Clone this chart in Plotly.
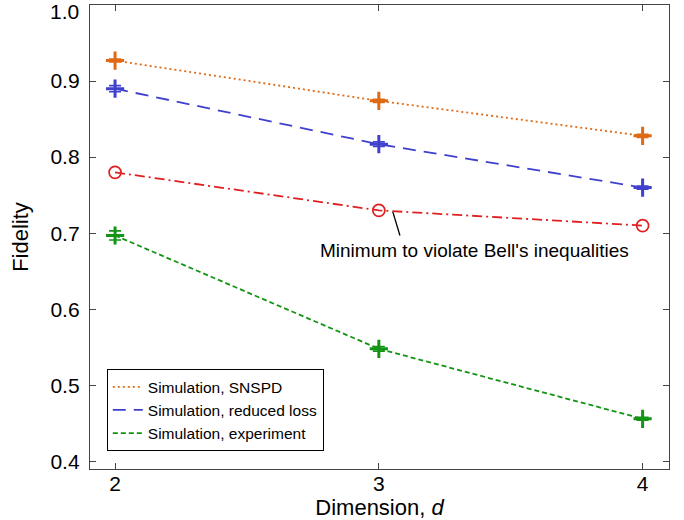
import plotly.graph_objects as go

dims = [2, 3, 4]
snspd = [0.927, 0.874, 0.828]
snspd_err = [0.002, 0.002, 0.002]
reduced = [0.890, 0.817, 0.760]
reduced_err = [0.004, 0.003, 0.002]
bell_min = [0.780, 0.730, 0.710]
experiment = [0.697, 0.548, 0.456]
experiment_err = [0.006, 0.003, 0.002]
y_ticks = [0.4, 0.5, 0.6, 0.7, 0.8, 0.9, 1.0]

ORANGE = "#E06A14"
BLUE = "#4040CF"
RED = "#E02020"
GREEN = "#149414"

fig = go.Figure()

def series(y, err, color, dash, name, legend=True, symbol="cross-thin-open"):
    cross = "cross" in symbol
    tr = go.Scatter(
        x=dims, y=y, mode="lines+markers", name=name, showlegend=False,
        line=dict(color=color, width=1.8, dash=dash),
        marker=dict(symbol=symbol, size=13 if cross else 12,
                    color=color, line=dict(color=color, width=3 if cross else 1.7)),
    )
    if err is not None:
        tr.error_y = dict(type="data", array=err, visible=True, color=color,
                          thickness=1.6, width=6)
    fig.add_trace(tr)
    if legend:
        # legend entry shows only the line style, as in the original
        fig.add_trace(go.Scatter(x=[None], y=[None], mode="lines", name=name,
                                 line=dict(color=color, width=1.8, dash=dash)))

series(snspd, snspd_err, ORANGE, "2px,3px", "Simulation, SNSPD")
series(reduced, reduced_err, BLUE, "13px,8px", "Simulation, reduced loss")
series(experiment, experiment_err, GREEN, "5px,3px", "Simulation, experiment")
series(bell_min, None, RED, "10px,4px,2px,4px", "Minimum", legend=False, symbol="circle-open")

font = "Liberation Sans, Arial, sans-serif"

fig.add_shape(type="line", x0=3.053, y0=0.728, x1=3.08, y1=0.697,
              line=dict(color="black", width=1.3))
fig.add_annotation(x=3.364, y=0.677, text="Minimum to violate Bell's inequalities",
                   showarrow=False, font=dict(family=font, size=19, color="black"))

# top tick label is nudged down so it stays inside the figure, as in the original
fig.add_annotation(xref="paper", yref="paper", x=0, y=1, xanchor="right", yanchor="top",
                   xshift=-9, yshift=7, text=f"{y_ticks[-1]:.1f}", showarrow=False,
                   font=dict(family=font, size=21, color="black"))

axis_common = dict(showline=True, linecolor="#444", linewidth=1.3, mirror="allticks",
                   ticks="inside", ticklen=6, tickcolor="#444", tickwidth=1.3,
                   showgrid=False, zeroline=False, automargin=False,
                   tickfont=dict(family=font, size=21, color="black"))

fig.update_layout(
    width=684, height=520,
    margin=dict(l=90, r=15, t=5, b=51),
    plot_bgcolor="white", paper_bgcolor="white",
    font=dict(family=font, color="black"),
    xaxis=dict(range=[1.905, 4.1], tickvals=dims, ticktext=[str(d) for d in dims],
               ticklabelstandoff=-4,
               title=dict(text="Dimension, <i>d</i>", font=dict(family=font, size=22)),
               **axis_common),
    yaxis=dict(range=[0.39, 1.0], tickvals=y_ticks,
               ticktext=[f"{v:.1f}" if v < 1 else "" for v in y_ticks],
               ticklabelstandoff=5,
               title=dict(text="Fidelity", font=dict(family=font, size=22)),
               **axis_common),
    legend=dict(x=0.029, y=0.215, xanchor="left", yanchor="top",
                bgcolor="white", bordercolor="black", borderwidth=1,
                font=dict(family=font, size=15.5), tracegroupgap=0,
                itemwidth=30),
)

fig.write_html("out.html")
